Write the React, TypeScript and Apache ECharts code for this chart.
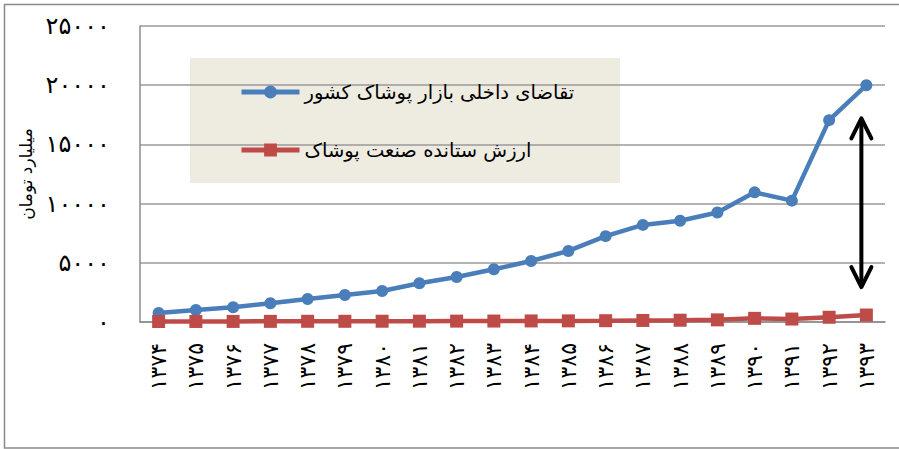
import React, { useEffect, useRef } from "react";
import * as echarts from "echarts";

const years = ["۱۳۷۴", "۱۳۷۵", "۱۳۷۶", "۱۳۷۷", "۱۳۷۸", "۱۳۷۹", "۱۳۸۰", "۱۳۸۱", "۱۳۸۲", "۱۳۸۳", "۱۳۸۴", "۱۳۸۵", "۱۳۸۶", "۱۳۸۷", "۱۳۸۸", "۱۳۸۹", "۱۳۹۰", "۱۳۹۱", "۱۳۹۲", "۱۳۹۳"];
const demand = [760, 1010, 1240, 1580, 1940, 2280, 2620, 3270, 3800, 4450, 5150, 6000, 7250, 8200, 8550, 9250, 10950, 10250, 17050, 20000];
const output = [40, 45, 50, 55, 60, 60, 65, 70, 75, 80, 90, 95, 110, 130, 150, 180, 310, 250, 400, 590];
const demandName = "تقاضای داخلی بازار پوشاک کشور";
const outputName = "ارزش ستانده صنعت پوشاک";
const yAxisName = "میلیارد تومان";
const arrowTopValue = 17200;
const arrowBottomValue = 2950;

const faDigits = ["۰", "۱", "۲", "۳", "۴", "۵", "۶", "۷", "۸", "۹"];
const toFa = (v: number | string) => String(v).replace(/[0-9]/g, (d) => faDigits[+d]);

const FONT = "DejaVu Sans";

export default function App() {
  const ref = useRef<HTMLDivElement>(null);
  useEffect(() => {
    const chart = echarts.init(ref.current!, null, { renderer: "svg" });
    const option: any = {
      animation: false,
      backgroundColor: "#ffffff",
      grid: { left: 140, right: 14, top: 26, bottom: 127, containLabel: false },
      xAxis: {
        type: "category",
        data: years,
        boundaryGap: true,
        axisLine: { lineStyle: { color: "#8c8c8c", width: 1.5 } },
        axisTick: { show: false },
        axisLabel: { rotate: 90, margin: 21, color: "#000", fontFamily: FONT, fontSize: 22 },
      },
      yAxis: {
        type: "value",
        min: 0,
        max: 25000,
        interval: 5000,
        name: yAxisName,
        nameLocation: "middle",
        nameGap: 94,
        nameRotate: 90,
        nameTextStyle: { color: "#000", fontFamily: FONT, fontSize: 17 },
        axisLine: { show: true, lineStyle: { color: "#8c8c8c", width: 1.5 } },
        axisTick: { show: false },
        splitLine: { lineStyle: { color: "#9a9a9a", width: 1.5 } },
        axisLabel: { margin: 30, color: "#000", fontFamily: FONT, fontSize: 24, formatter: (v: number) => toFa(v) },
      },
      legend: {
        orient: "vertical",
        left: 234,
        top: 77,
        itemWidth: 58,
        itemHeight: 16,
        itemGap: 38,
        lineStyle: { width: 5 },
        textStyle: { color: "#000", fontFamily: FONT, fontSize: 19.5 },
        data: [demandName, outputName],
      },
      graphic: [
        { type: "rect", z: -1, shape: { x: 4.5, y: 4.5, width: 900, height: 443.5 }, style: { fill: "none", stroke: "#8a8a8a", lineWidth: 1.5 } },
        { type: "rect", z: 0, shape: { x: 190, y: 58, width: 430, height: 125 }, style: { fill: "#EEECE1" } },
      ],
      series: [
        {
          name: demandName,
          type: "line",
          data: demand,
          symbol: "circle",
          symbolSize: 12,
          lineStyle: { color: "#4A7EBB", width: 4.5 },
          itemStyle: { color: "#4A7EBB" },
          z: 3,
        },
        {
          name: outputName,
          type: "line",
          data: output,
          symbol: "rect",
          symbolSize: 13,
          lineStyle: { color: "#BE4B48", width: 4.5 },
          itemStyle: { color: "#BE4B48" },
          z: 4,
        },
      ],
    };
    chart.setOption(option);
    const last = years.length - 1;
    const top = chart.convertToPixel({ seriesIndex: 0 }, [last, arrowTopValue]) as number[];
    const bot = chart.convertToPixel({ seriesIndex: 0 }, [last, arrowBottomValue]) as number[];
    const x = top[0] - 5;
    const st = { stroke: "#000", lineWidth: 4, fill: "none", lineCap: "round", lineJoin: "round" };
    chart.setOption({
      graphic: [
        option.graphic[0],
        option.graphic[1],
        { type: "line", z: 10, shape: { x1: x, y1: top[1] + 2, x2: x, y2: bot[1] - 2 }, style: st },
        { type: "polyline", z: 10, shape: { points: [[x - 10, top[1] + 20], [x, top[1]], [x + 10, top[1] + 20]] }, style: st },
        { type: "polyline", z: 10, shape: { points: [[x - 10, bot[1] - 20], [x, bot[1]], [x + 10, bot[1] - 20]] }, style: st },
      ],
    });
    return () => chart.dispose();
  }, []);
  return <div ref={ref} style={{ position: "absolute", left: 0, top: 0, width: 899, height: 449 }} />;
}
